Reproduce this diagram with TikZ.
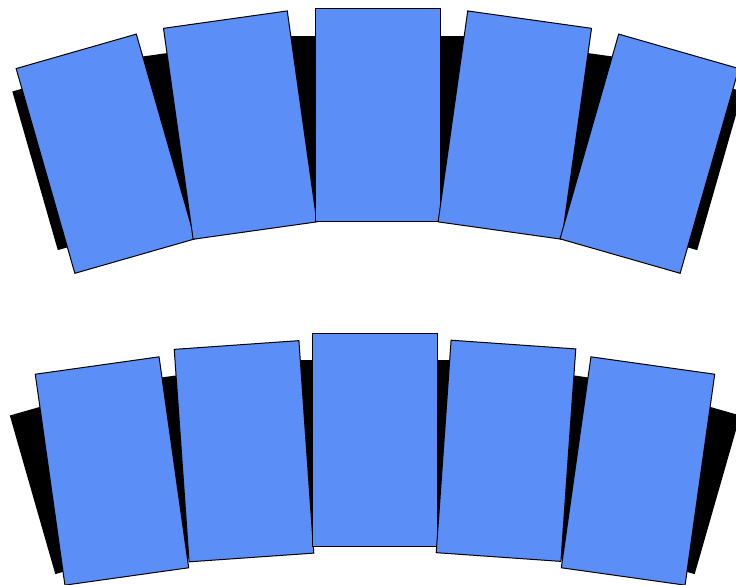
\documentclass[tikz,border=0pt]{standalone}
\usepackage{tikz}
\usetikzlibrary{calc}

\begin{document}
\begin{tikzpicture}[x=1pt,y=1pt,
  panel/.style={rectangle, draw=black, line width=1pt, fill=c1, inner sep=0pt, outer sep=0pt, minimum width=125pt, minimum height=213pt},
  back/.style={rectangle, fill=black, inner sep=0pt, outer sep=0pt}]
\definecolor{c1}{RGB}{91,142,247}
\useasboundingbox (0,0) rectangle (736,585);

\coordinate (ctop) at (377.5,-517);
\coordinate (cbot) at (375,-841);

\foreach \a/\u/\w/\r/\h [count=\i] in {16/-5/135/989.5/165, 8/-12.75/150.5/976.5/183, 0/0/176/975.5/181, -8/12.75/150.5/976.5/183, -16/5/135/989.5/165}
{
\node[back, rotate=\a, minimum width=\w pt, minimum height=\h pt] (topback\i) at ($(ctop)+(90+\a:\r)+(\a:\u)$) {};
\node[back, rotate=\a, minimum width=\w pt, minimum height=\h pt] (botback\i) at ($(cbot)+(90+\a:\r)+(\a:\u)$) {};
}

\foreach \a [count=\i] in {16,8,0,-8,-16}
\node[panel, rotate=\a] (top\i) at ($(ctop)+(90+\a:986.5)$) {};

\foreach \x/\y/\a [count=\i] in {112/114/8, 244/133.75/4, 375/145.35/0, 506/134.2/-4, 638/114/-8}
\node[panel, rotate=\a] (bot\i) at (\x,\y) {};
\end{tikzpicture}
\end{document}
